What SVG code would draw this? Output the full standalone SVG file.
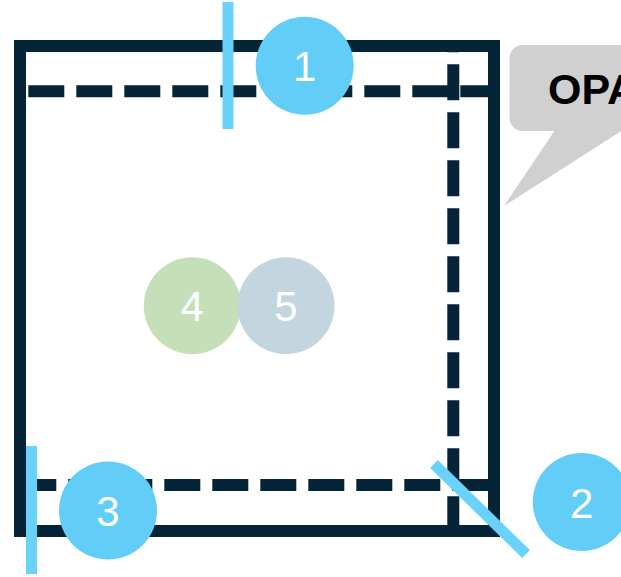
<svg xmlns="http://www.w3.org/2000/svg" width="621" height="577" viewBox="0 0 621 577">
<style>
.frame{fill:none;stroke:#062438;stroke-width:12}
.guide{fill:none;stroke:#062438;stroke-width:12;stroke-dasharray:36 12}
.mark{stroke:#69d2fa;stroke-width:11;fill:none}
.badge{fill:#62cdf6}
.num{font-family:"Liberation Sans",Arial,sans-serif;font-size:42px;fill:#ffffff;text-anchor:middle}
.lbl{font-family:"Liberation Sans",Arial,sans-serif;font-size:43px;font-weight:bold;fill:#000000}
</style>
<rect width="621" height="577" fill="#ffffff"/>
<g id="frame">
<rect class="frame" x="20" y="46" width="474" height="485"/>
</g>
<g id="guides">
<path class="guide" d="M28.3,91.2 H494"/>
<path class="guide" d="M453.3,40 V531" style="stroke-dashoffset:23.7"/>
<path class="guide" d="M20.3,485 H494"/>
</g>
<g id="callout">
<rect x="509.5" y="45" width="150" height="86" rx="13" fill="#d0d0d0"/>
<polygon points="555,130 504,206 640,119 640,130" fill="#d0d0d0"/>
<text class="lbl" x="548" y="104">OPA</text>
</g>
<g id="connectors">
<line class="mark" x1="228" y1="2" x2="228" y2="129"/>
<line class="mark" x1="434" y1="464" x2="526" y2="554"/>
<line class="mark" x1="31.5" y1="446" x2="31.5" y2="574"/>
</g>
<g id="node1">
<circle class="badge" cx="304.7" cy="65.8" r="49"/>
<text class="num" x="304.7" y="81">1</text>
</g>
<g id="node2">
<circle class="badge" cx="581.7" cy="502" r="49"/>
<text class="num" x="581.7" y="517.5">2</text>
</g>
<g id="node3">
<circle class="badge" cx="108" cy="510.5" r="49"/>
<text class="num" x="108" y="526">3</text>
</g>
<g id="node4">
<circle cx="192.3" cy="305.7" r="48.5" fill="#c5e0b9"/>
<text class="num" x="192.3" y="321">4</text>
</g>
<g id="node5">
<circle cx="286" cy="305.7" r="48.5" fill="#c3d6df"/>
<text class="num" x="286" y="321">5</text>
</g>
</svg>
